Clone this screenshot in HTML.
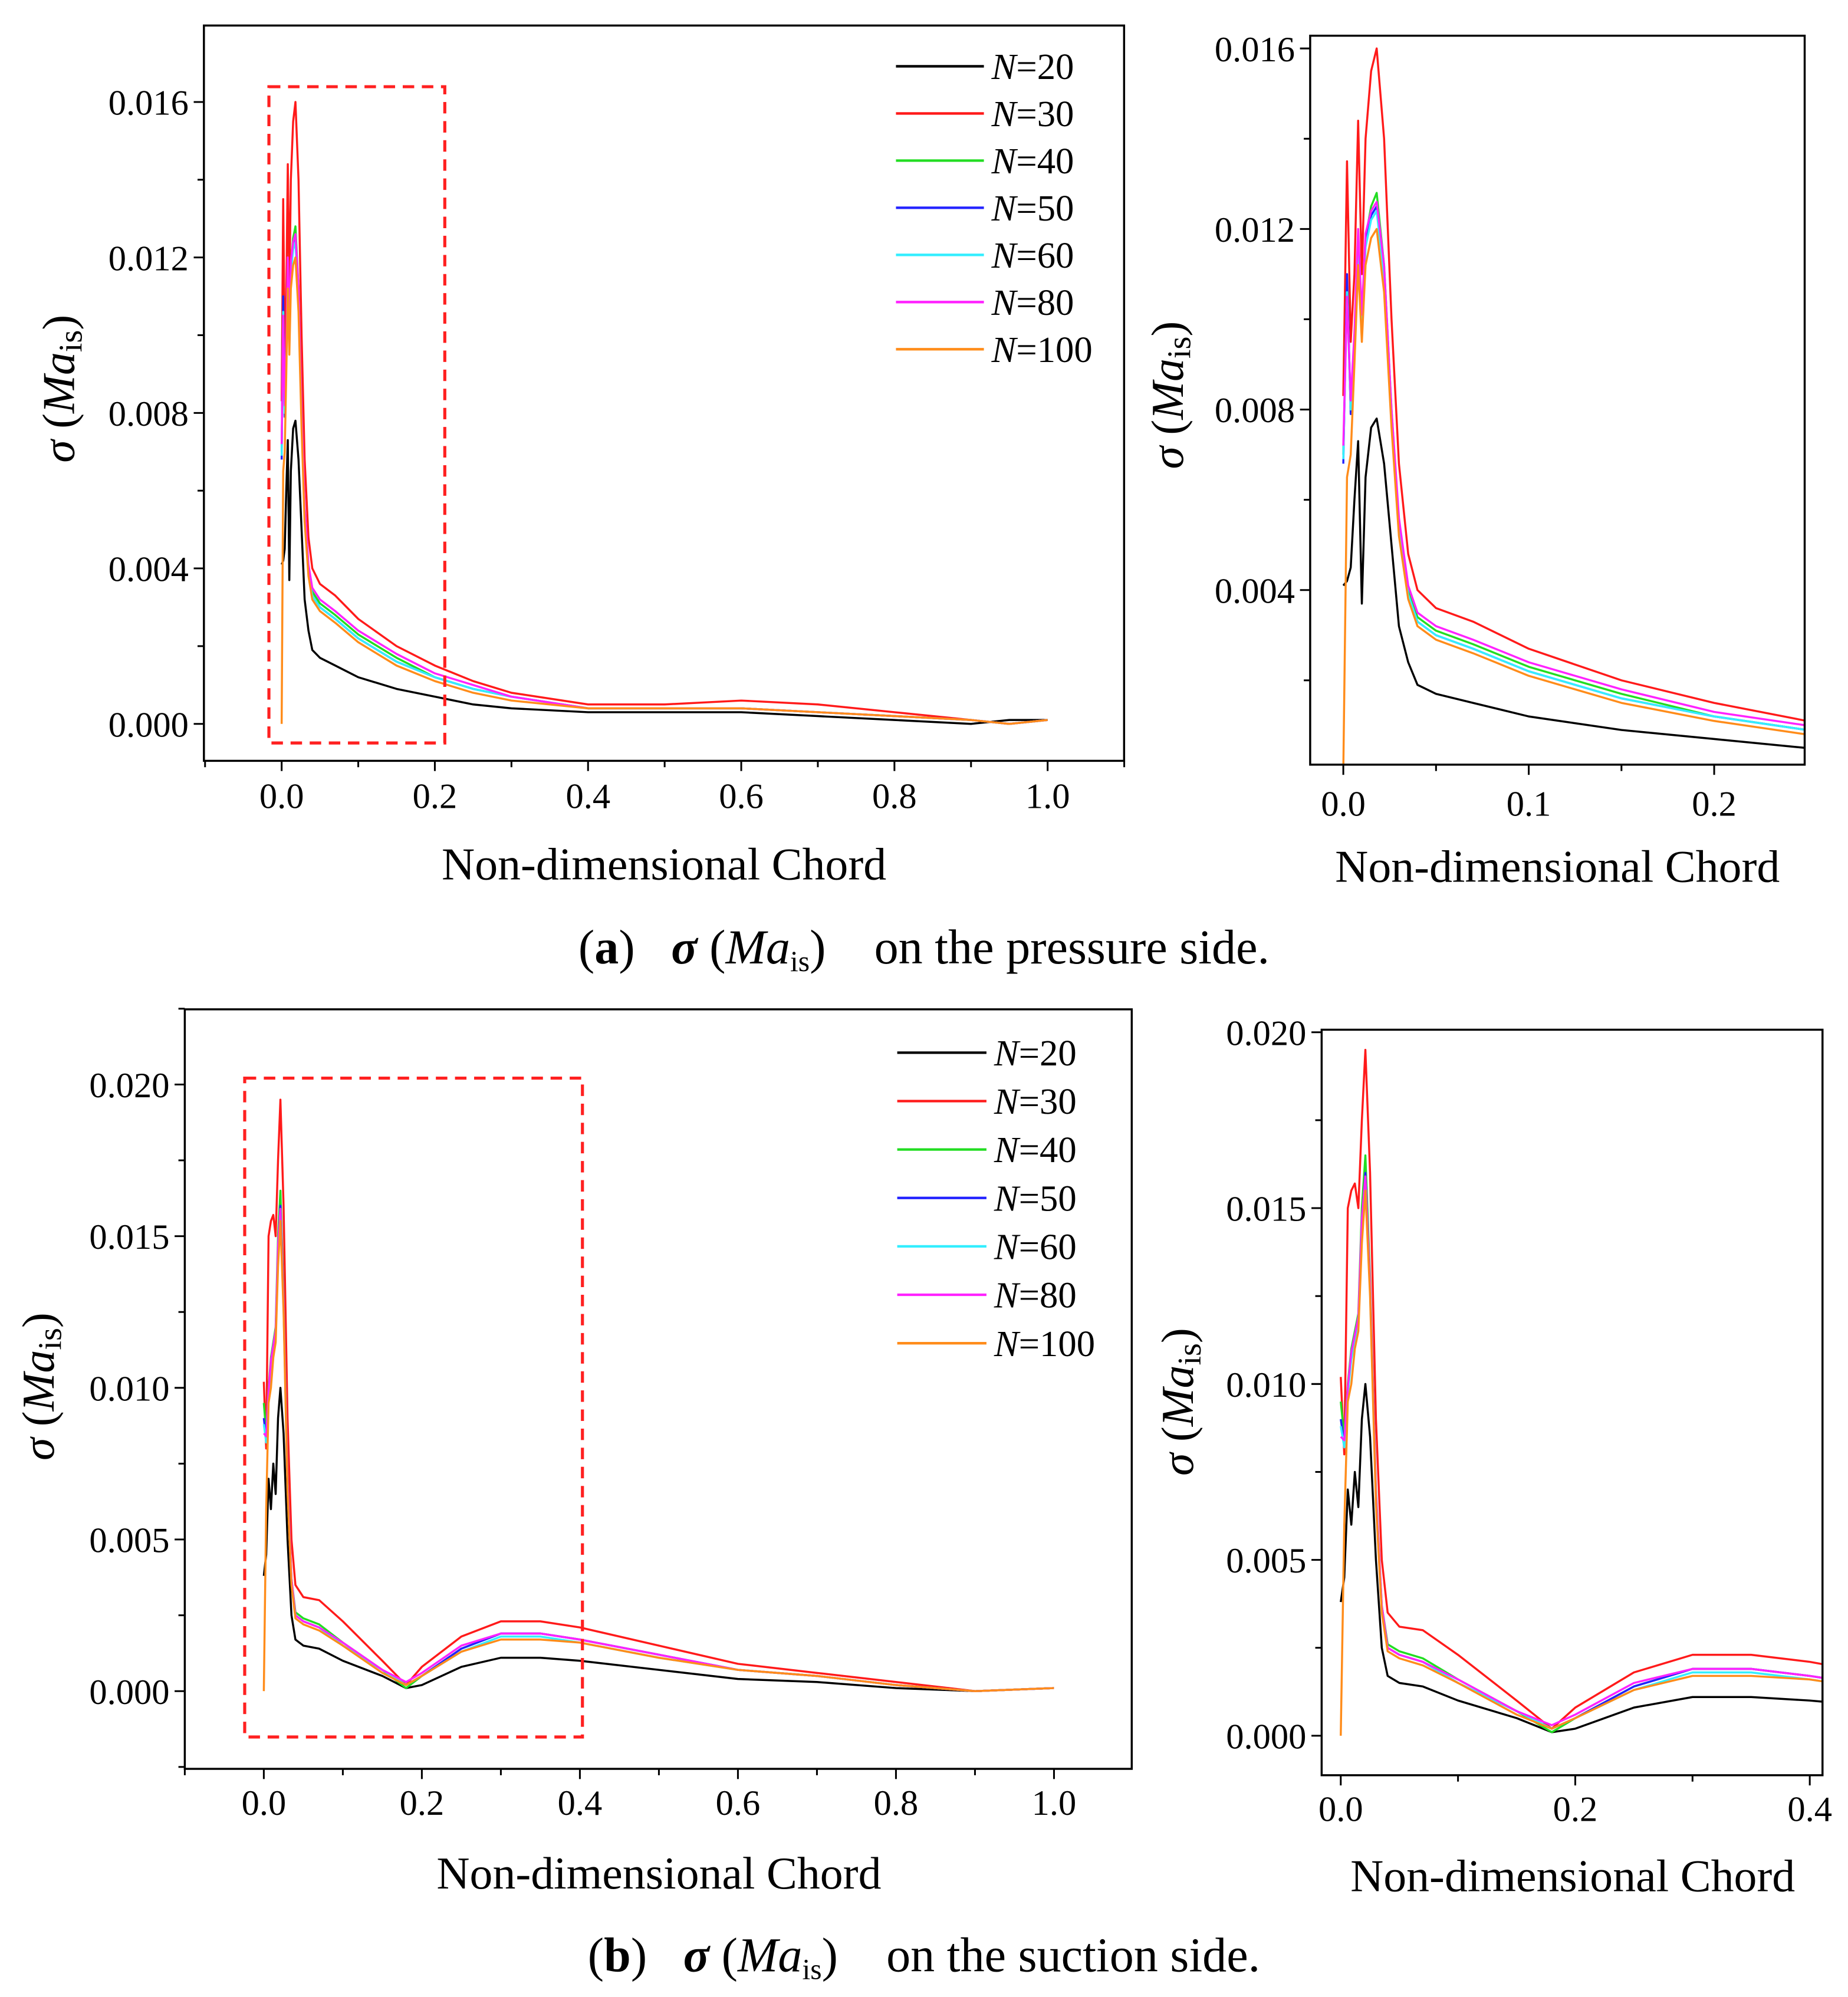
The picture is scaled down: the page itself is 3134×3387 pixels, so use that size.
<!DOCTYPE html>
<html><head><meta charset="utf-8">
<style>
html,body{margin:0;padding:0;background:#fff;}
svg{display:block;font-family:"Liberation Serif",serif;}
</style></head>
<body>
<svg id="fig" width="3134" height="3387" viewBox="0 0 1450 1567" xmlns="http://www.w3.org/2000/svg">
<g id="root"></g>
<text x="725" y="756" text-anchor="middle" font-size="38" xml:space="preserve">(<tspan font-weight="bold">a</tspan>)   <tspan font-weight="bold" font-style="italic">σ</tspan> (<tspan font-style="italic">Ma</tspan><tspan font-size="23" dy="6">is</tspan><tspan dy="-6">)</tspan>    on the pressure side.</text>
<text x="725" y="1547" text-anchor="middle" font-size="38" xml:space="preserve">(<tspan font-weight="bold">b</tspan>)   <tspan font-weight="bold" font-style="italic">σ</tspan> (<tspan font-style="italic">Ma</tspan><tspan font-size="23" dy="6">is</tspan><tspan dy="-6">)</tspan>    on the suction side.</text>
</svg>
<script>
const NS="http://www.w3.org/2000/svg";
const seriesNames=["N=20","N=30","N=40","N=50","N=60","N=80","N=100"];
const seriesColors=["#000000","#ff1a1a","#22dd22","#2222ff","#33eeff","#ff22ff","#ff8c1a"];
// pressure side
const pX=[0,.002,.004,.006,.008,.010,.012,.015,.018,.022,.026,.03,.035,.04,.05,.07,.1,.15,.2,.25,.3,.4,.5,.6,.7,.8,.9,.95,1.0];
const pN20=[.0041,.0042,.0045,.0060,.0073,.0037,.0065,.0076,.0078,.0068,.0050,.0032,.0024,.0019,.0017,.0015,.0012,.0009,.0007,.0005,.0004,.0003,.0003,.0003,.0002,.0001,.0000,.0001,.0001];
const pN30=[.0083,.0135,.0095,.0110,.0144,.0110,.0140,.0155,.0160,.0140,.0100,.0068,.0048,.0040,.0036,.0033,.0027,.0020,.0015,.0011,.0008,.0005,.0005,.0006,.0005,.0003,.0001,.0000,.0001];
const pN40=[.0070,.0108,.0080,.0095,.0118,.0100,.0118,.0125,.0128,.0112,.0080,.0055,.0040,.0034,.0031,.0028,.0023,.0017,.0012,.0009,.0007,.0004,.0004,.0004,.0003,.0002,.0001,.0000,.0001];
const pN50=[.0068,.0110,.0079,.0094,.0117,.0099,.0117,.0123,.0125,.0110,.0079,.0054,.0039,.0033,.0030,.0027,.0022,.0016,.0012,.0009,.0007,.0004,.0004,.0004,.0003,.0002,.0001,.0000,.0001];
const pN60=[.0069,.0106,.0080,.0095,.0116,.0098,.0116,.0122,.0124,.0109,.0078,.0054,.0039,.0033,.0030,.0027,.0022,.0016,.0012,.0009,.0007,.0004,.0004,.0004,.0003,.0002,.0001,.0000,.0001];
const pN80=[.0072,.0105,.0082,.0097,.0120,.0101,.0119,.0124,.0126,.0112,.0080,.0056,.0041,.0035,.0032,.0029,.0024,.0018,.0013,.0010,.0007,.0004,.0004,.0004,.0003,.0002,.0001,.0000,.0001];
const pN100=[.0000,.0065,.0070,.0090,.0112,.0095,.0112,.0118,.0120,.0106,.0076,.0052,.0038,.0032,.0029,.0026,.0021,.0015,.0011,.0008,.0006,.0004,.0004,.0004,.0003,.0002,.0001,.0000,.0001];
// suction side
const sX=[0,.003,.006,.009,.012,.015,.018,.021,.025,.03,.035,.04,.05,.07,.1,.15,.18,.2,.25,.3,.35,.4,.5,.6,.7,.8,.9,1.0];
const sN20=[.0038,.0045,.0070,.0060,.0075,.0065,.0090,.0100,.0085,.0050,.0025,.0017,.0015,.0014,.0010,.0005,.0001,.0002,.0008,.0011,.0011,.0010,.0007,.0004,.0003,.0001,.0000,.0001];
const sN30=[.0102,.0080,.0150,.0155,.0157,.0150,.0175,.0195,.0160,.0090,.0050,.0035,.0031,.0030,.0023,.0010,.0002,.0008,.0018,.0023,.0023,.0021,.0015,.0009,.0006,.0003,.0000,.0001];
const sN40=[.0095,.0085,.0100,.0110,.0115,.0120,.0150,.0165,.0130,.0070,.0037,.0026,.0024,.0022,.0016,.0007,.0001,.0005,.0014,.0019,.0019,.0017,.0012,.0007,.0005,.0002,.0000,.0001];
const sN50=[.0090,.0083,.0098,.0108,.0113,.0118,.0146,.0160,.0127,.0068,.0036,.0025,.0023,.0021,.0015,.0007,.0002,.0005,.0014,.0019,.0019,.0017,.0012,.0007,.0005,.0002,.0000,.0001];
const sN60=[.0088,.0082,.0097,.0107,.0112,.0117,.0145,.0158,.0126,.0067,.0036,.0025,.0023,.0021,.0015,.0007,.0002,.0005,.0013,.0018,.0018,.0016,.0011,.0007,.0005,.0002,.0000,.0001];
const sN80=[.0085,.0084,.0099,.0109,.0114,.0119,.0147,.0159,.0128,.0069,.0037,.0025,.0023,.0021,.0016,.0007,.0003,.0006,.0015,.0019,.0019,.0017,.0012,.0007,.0005,.0002,.0000,.0001];
const sN100=[.0000,.0060,.0095,.0100,.0110,.0115,.0140,.0155,.0125,.0066,.0035,.0024,.0022,.0020,.0015,.0006,.0002,.0005,.0013,.0017,.0017,.0016,.0011,.0007,.0005,.0002,.0000,.0001];
const pSeries=[pN20,pN30,pN40,pN50,pN60,pN80,pN100];
const sSeries=[sN20,sN30,sN40,sN50,sN60,sN80,sN100];
const paXTicks=[0,0.2,0.4,0.6,0.8,1.0], paYTicks=[0,0.004,0.008,0.012,0.016];
const prXTicks=[0,0.1,0.2], prYTicks=[0.004,0.008,0.012,0.016];
const sbXTicks=[0,0.2,0.4,0.6,0.8,1.0], sbYTicks=[0,0.005,0.010,0.015,0.020];
const srXTicks=[0,0.2,0.4], srYTicks=[0,0.005,0.010,0.015,0.020];

const root=document.getElementById('root');
function mk(tag,attrs,parent){const e=document.createElementNS(NS,tag);for(const k in attrs)e.setAttribute(k,attrs[k]);(parent||root).appendChild(e);return e;}
let clipId=0;
function panel(cfg){
  const g=mk('g',{});
  
  
  const sx=v=>cfg.x0px+(v-cfg.xa)/(cfg.xb-cfg.xa)*(cfg.x1px-cfg.x0px);
  const sy=v=>cfg.y0px+(v-cfg.ya)/(cfg.yb-cfg.ya)*(cfg.y1px-cfg.y0px);
  const f=cfg.frame;
  const id='clip'+(clipId++);
  const cp=mk('clipPath',{id:id},g);
  mk('rect',{x:f[0],y:f[1],width:f[2]-f[0],height:f[3]-f[1]},cp);
  const lg=mk('g',{'clip-path':'url(#'+id+')'},g);
  cfg.series.forEach((arr,i)=>{
    let d='';
    arr.forEach((v,j)=>{d+=(j?'L':'M')+sx(cfg.xs[j]).toFixed(2)+','+sy(v).toFixed(2);});
    const p=mk('path',{d:d,fill:'none',stroke:seriesColors[i],'stroke-width':1.6,'stroke-linejoin':'round'},lg);
    
    
  });
  const fr=mk('rect',{x:f[0],y:f[1],width:f[2]-f[0],height:f[3]-f[1],fill:'none',stroke:'#000','stroke-width':1.6},g);
  
  
  const xt=cfg.xTicks, step=xt[1]-xt[0];
  for(let v=cfg.xa-step; v<=cfg.xb+step; v+=step/2){
    const px=sx(v); if(px<f[0]-0.5||px>f[2]+0.5) continue;
    const major=xt.some(t=>Math.abs(t-v)<1e-9);
    mk('line',{x1:px,x2:px,y1:f[3],y2:f[3]+(major?8:5),stroke:'#000','stroke-width':1.4},g);
  }
  xt.forEach(v=>{
    const t=mk('text',{x:sx(v),y:cfg.xLabY,'text-anchor':'middle','font-size':28},g);
    t.textContent=v.toFixed(1);
    
    
  });
  const yt=cfg.yTicks, ys=yt[1]-yt[0];
  for(let v=yt[0]-2*ys; v<=yt[yt.length-1]+2*ys; v+=ys/2){
    const py=sy(v); if(py<f[1]-0.5||py>f[3]+0.5) continue;
    const major=yt.some(t=>Math.abs(t-v)<1e-9);
    mk('line',{x1:f[0],x2:f[0]-(major?8:5),y1:py,y2:py,stroke:'#000','stroke-width':1.4},g);
  }
  yt.forEach(v=>{
    const t=mk('text',{x:f[0]-12,y:sy(v)+10,'text-anchor':'end','font-size':28},g);
    t.textContent=v.toFixed(3);
    
    
  });
  const xtit=mk('text',{x:cfg.xTitle[0],y:cfg.xTitle[1],'text-anchor':'middle','font-size':36},g);
  xtit.textContent='Non-dimensional Chord';
  
  
  const ytit=mk('text',{transform:'translate('+cfg.yTitle[0]+','+cfg.yTitle[1]+') rotate(-90)','text-anchor':'middle','font-size':36},g);
  ytit.innerHTML='<tspan font-style="italic">σ</tspan> (<tspan font-style="italic">Ma</tspan><tspan font-size="26" dy="6">is</tspan><tspan dy="-6">)</tspan>';
  
  
  if(cfg.box){
    const b=cfg.box;
    const r=mk('rect',{x:b[0],y:b[1],width:b[2]-b[0],height:b[3]-b[1],fill:'none',stroke:'#ff2020','stroke-width':2.4,'stroke-dasharray':'9,6'},g);
    
    
  }
  if(cfg.legend){
    const L=cfg.legend;
    const lgd=mk('g',{},g);
    
    
    seriesNames.forEach((n,i)=>{
      const y=L.y0+i*L.dy;
      const e=mk('g',{},lgd);
      
      
      mk('line',{x1:L.x0,x2:L.x1,y1:y,y2:y,stroke:seriesColors[i],'stroke-width':2},e);
      const t=mk('text',{x:L.x1+6,y:y+10,'font-size':29},e);
      t.innerHTML='<tspan font-style="italic">N</tspan>='+n.slice(2);
    });
  }
}
panel({name:'pressure-side-full',frame:[160,20,882,597],xa:0,xb:1,x0px:221,x1px:822,ya:0,yb:0.016,y0px:568,y1px:80,
  xs:pX,series:pSeries,xTicks:paXTicks,yTicks:paYTicks,xLabY:634,xTitle:[521,690],yTitle:[58,305],
  box:[211,68,349,583],legend:{x0:703,x1:772,y0:52,dy:37}});
panel({name:'pressure-side-zoom',frame:[1028,28,1416,600],xa:0,xb:0.2,x0px:1054,x1px:1345,ya:0.004,yb:0.016,y0px:463,y1px:38,
  xs:pX,series:pSeries,xTicks:prXTicks,yTicks:prYTicks,xLabY:640,xTitle:[1222,692],yTitle:[928,310]});
panel({name:'suction-side-full',frame:[145,792,888,1388],xa:0,xb:1,x0px:207,x1px:827,ya:0,yb:0.020,y0px:1327,y1px:851,
  xs:sX,series:sSeries,xTicks:sbXTicks,yTicks:sbYTicks,xLabY:1424,xTitle:[517,1482],yTitle:[42,1088],
  box:[192,846,457,1363],legend:{x0:704,x1:774,y0:826,dy:38}});
panel({name:'suction-side-zoom',frame:[1037,808,1430,1393],xa:0,xb:0.4,x0px:1052,x1px:1420,ya:0,yb:0.020,y0px:1362,y1px:810,
  xs:sX,series:sSeries,xTicks:srXTicks,yTicks:srYTicks,xLabY:1429,xTitle:[1234,1484],yTitle:[936,1100]});
</script>
</body></html>
